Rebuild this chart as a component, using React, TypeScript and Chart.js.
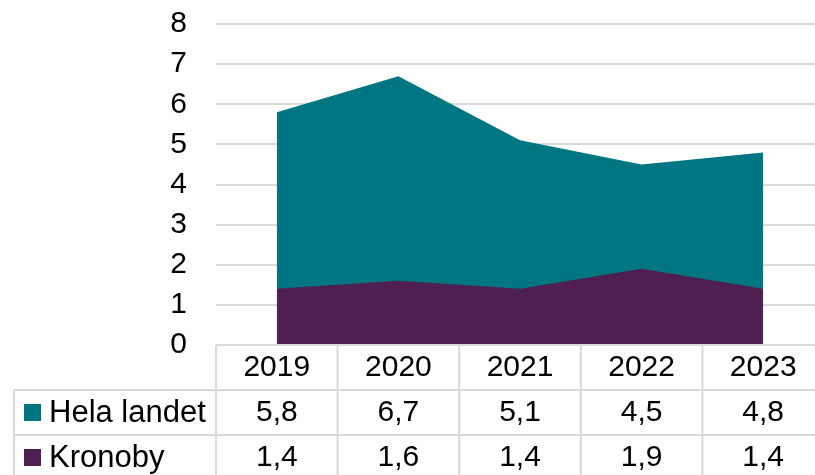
import React, { useEffect, useRef } from "react";
import { Chart, registerables } from "chart.js";

Chart.register(...registerables);

const years = ["2019", "2020", "2021", "2022", "2023"];
const helaLandet = [5.8, 6.7, 5.1, 4.5, 4.8];
const kronoby = [1.4, 1.6, 1.4, 1.9, 1.4];
const helaLabels = ["5,8", "6,7", "5,1", "4,5", "4,8"];
const kronobyLabels = ["1,4", "1,6", "1,4", "1,9", "1,4"];
const seriesNames = ["Hela landet", "Kronoby"];
const seriesColors = ["#007682", "#4E1F50"];

const FONT = '"Liberation Sans", Arial, sans-serif';

const tablePlugin = {
  id: "dataTable",
  afterDraw(chart: any) {
    const ctx = chart.ctx;
    const area = chart.chartArea;
    const x = chart.scales.x;
    const n = years.length;
    const colW = (area.right - area.left) / n;
    const top = area.bottom;
    const r1 = top + 45;
    const r2 = r1 + 45;
    const bottom = chart.height;
    const tableLeft = 14;
    ctx.save();
    ctx.strokeStyle = "#d9d9d9";
    ctx.lineWidth = 2;
    ctx.beginPath();
    ctx.moveTo(area.left, top);
    ctx.lineTo(chart.width, top);
    ctx.moveTo(tableLeft, r1);
    ctx.lineTo(chart.width, r1);
    ctx.moveTo(tableLeft, r2);
    ctx.lineTo(chart.width, r2);
    ctx.moveTo(tableLeft, r1);
    ctx.lineTo(tableLeft, bottom);
    for (let i = 0; i <= n; i++) {
      const cx = area.left + i * colW;
      ctx.moveTo(cx, top);
      ctx.lineTo(cx, bottom);
    }
    ctx.stroke();

    ctx.fillStyle = "#000";
    ctx.font = "30px " + FONT;
    ctx.textAlign = "center";
    ctx.textBaseline = "middle";
    const rowsY = [top + 23, r1 + 23, r2 + 23];
    years.forEach((y, i) => {
      const px = x.getPixelForValue(i);
      ctx.fillText(y, px, rowsY[0]);
      ctx.fillText(helaLabels[i], px, rowsY[1]);
      ctx.fillText(kronobyLabels[i], px, rowsY[2]);
    });
    ctx.textAlign = "left";
    ctx.font = "31px " + FONT;
    seriesNames.forEach((name, k) => {
      const cy = rowsY[k + 1];
      ctx.fillStyle = seriesColors[k];
      ctx.fillRect(24, cy - 9, 17, 17);
      ctx.fillStyle = "#000";
      ctx.fillText(name, 49, cy);
    });
    ctx.restore();
  },
};

export default function App() {
  const ref = useRef<HTMLCanvasElement>(null);
  useEffect(() => {
    const chart = new Chart(ref.current!, {
      type: "line",
      data: {
        labels: years,
        datasets: [
          {
            label: seriesNames[0],
            data: helaLandet,
            backgroundColor: seriesColors[0],
            borderWidth: 0,
            pointRadius: 0,
            fill: "origin",
            tension: 0,
            order: 1,
          },
          {
            label: seriesNames[1],
            data: kronoby,
            backgroundColor: seriesColors[1],
            borderWidth: 0,
            pointRadius: 0,
            fill: "origin",
            tension: 0,
            order: 0,
          },
        ],
      },
      options: {
        responsive: false,
        animation: false,
        layout: { padding: { top: 24, bottom: 130, left: 0, right: 0 } },
        plugins: { legend: { display: false }, tooltip: { enabled: false } },
        scales: {
          x: {
            display: false,
            offset: true,
          },
          y: {
            min: 0,
            max: 8,
            afterFit: (s: any) => {
              s.width = 216;
              s.paddingTop = 0;
              s.paddingBottom = 0;
            },
            ticks: {
              stepSize: 1,
              padding: 29,
              color: "#000",
              font: { family: FONT, size: 30 },
            },
            border: { display: false },
            grid: { color: "#d9d9d9", lineWidth: 2, drawTicks: false },
          },
        },
      },
      plugins: [tablePlugin],
    });
    return () => chart.destroy();
  }, []);
  return (
    <div
      style={{
        position: "fixed",
        left: 0,
        top: 0,
        width: 815,
        height: 475,
        overflow: "hidden",
        background: "#fff",
      }}
    >
      <canvas ref={ref} width={824} height={475} style={{ display: "block" }} />
    </div>
  );
}
